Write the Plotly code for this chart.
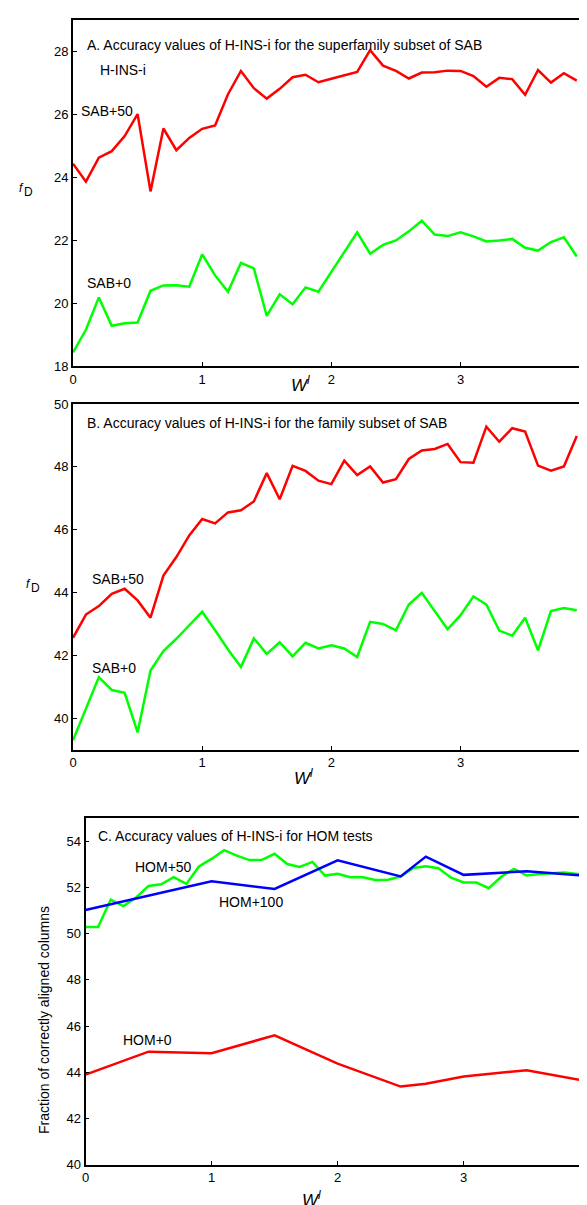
import plotly.graph_objects as go

# ---------------- data ----------------
x_sab = [round(i * 0.1, 1) for i in range(40)]

a_sab50 = [24.44, 23.87, 24.63, 24.84, 25.32, 26.02, 23.56, 25.56, 24.87, 25.26,
           25.55, 25.66, 26.65, 27.39, 26.84, 26.51, 26.82, 27.19, 27.27, 27.03,
           27.14, 27.24, 27.36, 28.05, 27.56, 27.39, 27.15, 27.34, 27.35, 27.40,
           27.39, 27.23, 26.89, 27.17, 27.13, 26.63, 27.42, 27.02, 27.32, 27.08]
a_sab0 = [18.44, 19.16, 20.19, 19.29, 19.37, 19.39, 20.40, 20.57, 20.58, 20.53,
          21.56, 20.89, 20.37, 21.29, 21.11, 19.60, 20.29, 19.97, 20.51, 20.37,
          21.00, 21.63, 22.26, 21.58, 21.86, 22.00, 22.29, 22.63, 22.19, 22.14,
          22.26, 22.13, 21.97, 22.00, 22.05, 21.77, 21.68, 21.95, 22.10, 21.49]

b_sab50 = [42.56, 43.30, 43.57, 43.96, 44.12, 43.75, 43.20, 44.54, 45.13, 45.82,
           46.34, 46.20, 46.55, 46.62, 46.90, 47.80, 46.97, 48.03, 47.87, 47.56,
           47.45, 48.20, 47.74, 48.01, 47.50, 47.61, 48.25, 48.52, 48.57, 48.73,
           48.15, 48.13, 49.28, 48.80, 49.23, 49.12, 48.04, 47.88, 48.01, 48.98]
b_sab0 = [39.30, 40.31, 41.31, 40.90, 40.81, 39.55, 41.52, 42.14, 42.53, 42.96,
          43.39, 42.80, 42.19, 41.63, 42.54, 42.05, 42.42, 41.97, 42.40, 42.22,
          42.32, 42.22, 41.95, 43.07, 43.00, 42.80, 43.62, 43.99, 43.41, 42.83,
          43.28, 43.88, 43.62, 42.79, 42.63, 43.20, 42.16, 43.41, 43.51, 43.44]

x_hom50 = [round(i * 0.1, 1) for i in range(41)]
c_hom50 = [50.28, 50.28, 51.47, 51.19, 51.55, 52.06, 52.13, 52.44, 52.15, 52.90,
           53.23, 53.61, 53.37, 53.18, 53.19, 53.45, 53.01, 52.88, 53.10, 52.51,
           52.59, 52.44, 52.44, 52.32, 52.33, 52.47, 52.84, 52.91, 52.83, 52.42,
           52.21, 52.21, 51.96, 52.47, 52.80, 52.51, 52.58, 52.62, 52.64, 52.58,
           52.55]

x_hom100 = [0, 1.0, 1.5, 2.0, 2.5, 2.7, 3.0, 3.5, 4.0]
c_hom100 = [51.02, 52.26, 51.93, 53.17, 52.47, 53.33, 52.54, 52.70, 52.49]

x_hom0 = [0, 0.5, 1.0, 1.5, 2.0, 2.5, 2.7, 3.0, 3.5, 4.0]
c_hom0 = [43.90, 44.89, 44.82, 45.60, 44.37, 43.38, 43.50, 43.82, 44.09, 43.59]

x_ticks = [0, 1, 2, 3, 4]
a_yticks = [18, 20, 22, 24, 26, 28]
b_yticks = [40, 42, 44, 46, 48, 50]
c_yticks = [40, 42, 44, 46, 48, 50, 52, 54]

RED = "#ff0000"
GREEN = "#00ff00"
BLUE = "#0000ff"
FONT = "Liberation Sans, Arial, sans-serif"

W, H = 587, 1205

fig = go.Figure()
line_w = 2.5
fig.add_trace(go.Scatter(x=x_sab, y=a_sab50, mode="lines", line=dict(color=RED, width=line_w), xaxis="x", yaxis="y"))
fig.add_trace(go.Scatter(x=x_sab, y=a_sab0, mode="lines", line=dict(color=GREEN, width=line_w), xaxis="x", yaxis="y"))
fig.add_trace(go.Scatter(x=x_sab, y=b_sab50, mode="lines", line=dict(color=RED, width=line_w), xaxis="x2", yaxis="y2"))
fig.add_trace(go.Scatter(x=x_sab, y=b_sab0, mode="lines", line=dict(color=GREEN, width=line_w), xaxis="x2", yaxis="y2"))
fig.add_trace(go.Scatter(x=x_hom50, y=c_hom50, mode="lines", line=dict(color=GREEN, width=line_w), xaxis="x3", yaxis="y3"))
fig.add_trace(go.Scatter(x=x_hom100, y=c_hom100, mode="lines", line=dict(color=BLUE, width=line_w), xaxis="x3", yaxis="y3"))
fig.add_trace(go.Scatter(x=x_hom0, y=c_hom0, mode="lines", line=dict(color=RED, width=line_w), xaxis="x3", yaxis="y3"))


def px_x(p):
    return p / W


def px_y(p):
    return 1 - p / H


axis_common = dict(
    showline=True, linecolor="black", linewidth=1.8, mirror=True,
    ticks="inside", ticklen=4, tickwidth=1, tickcolor="black",
    showgrid=False, zeroline=False, automargin=False,
    ticklabeloverflow="allow",
    tickfont=dict(family=FONT, size=13, color="black"),
)

dom_ab = [px_x(65), px_x(581.7)]
dom_c = [px_x(77.5), px_x(581.7)]

fig.update_layout(
    template="none",
    width=W, height=H,
    margin=dict(l=0, r=0, t=0, b=0, autoexpand=False),
    paper_bgcolor="white", plot_bgcolor="white",
    showlegend=False,
    font=dict(family=FONT, size=14, color="black"),
    xaxis=dict(domain=dom_ab, range=[0, 4], tickvals=x_ticks, anchor="y", **axis_common),
    yaxis=dict(domain=[px_y(358.3), px_y(12.3)], range=[18, 29], tickvals=a_yticks, anchor="x", **axis_common),
    xaxis2=dict(domain=dom_ab, range=[0, 4], tickvals=x_ticks, anchor="y2", **axis_common),
    yaxis2=dict(domain=[px_y(741.7), px_y(396)], range=[39, 50], tickvals=b_yticks, anchor="x2", **axis_common),
    xaxis3=dict(domain=dom_c, range=[0, 4], tickvals=x_ticks, anchor="y3", **axis_common),
    yaxis3=dict(domain=[px_y(1156.7), px_y(810)], range=[40, 55], tickvals=c_yticks, anchor="x3", **axis_common),
)

ann = []


def label(text, x, y, xref, yref, size=14):
    ann.append(dict(text=text, x=x, y=y, xref=xref, yref=yref, showarrow=False,
                    xanchor="left", yanchor="middle", font=dict(family=FONT, size=size, color="black")))


# panel A
label("A. Accuracy values of H-INS-i for the superfamily subset of SAB", 0.095, 28.2, "x", "y")
label("H-INS-i", 0.19, 27.42, "x", "y")
label("SAB+50", 0.05, 26.11, "x", "y")
label("SAB+0", 0.09, 20.64, "x", "y")
# panel B
label("B. Accuracy values of H-INS-i for the family subset of SAB", 0.095, 49.4, "x2", "y2")
label("SAB+50", 0.135, 44.44, "x2", "y2")
label("SAB+0", 0.135, 41.59, "x2", "y2")
# panel C
label("C. Accuracy values of H-INS-i for HOM tests", 0.085, 54.2, "x3", "y3")
label("HOM+50", 0.375, 52.9, "x3", "y3")
label("HOM+100", 1.04, 51.35, "x3", "y3")
label("HOM+0", 0.28, 45.38, "x3", "y3")


def paper_text(text, xp, yp, size, angle=0):
    ann.append(dict(text=text, x=px_x(xp), y=px_y(yp), xref="paper", yref="paper", showarrow=False,
                    textangle=angle, xanchor="center", yanchor="middle",
                    font=dict(family=FONT, size=size, color="black")))


# x-axis titles  W^l
xt = "<i>W</i><sup><i>l</i></sup>"
for (xp, yp) in [(292, 376), (296, 769), (303, 1191)]:
    paper_text(xt, xp, yp, 17)

# y-axis titles  f D (raised italic f followed by D)
for (xf, yf) in [(13, 180), (20.5, 576)]:
    paper_text("<i>f</i>", xf, yf, 12)
    paper_text("D", xf + 7.3, yf + 4, 12)

paper_text("Fraction of correctly aligned columns", 36, 1012, 14, angle=-90)

fig.update_layout(annotations=ann)

fig.write_html("out.html")
